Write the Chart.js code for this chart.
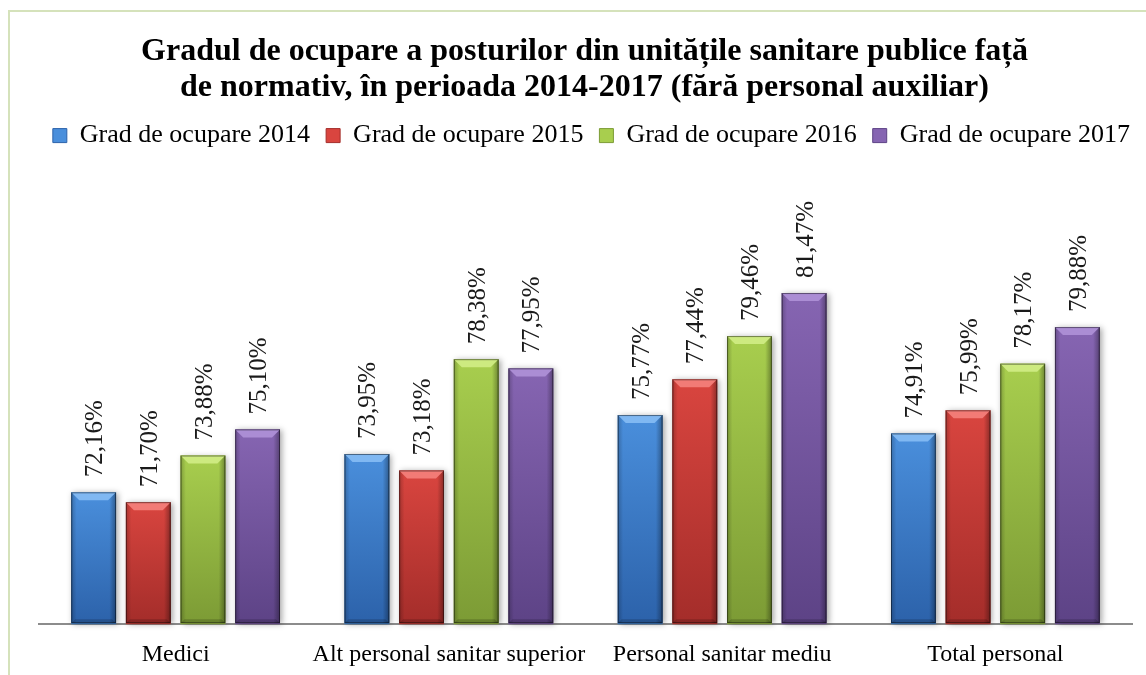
<!DOCTYPE html>
<html>
<head>
<meta charset="utf-8">
<script src="https://cdn.jsdelivr.net/npm/chart.js@4/dist/chart.umd.min.js"></script>
<style>
    html, body { margin: 0; padding: 0; background: #fff; overflow: hidden; }
    #frame { position: absolute; left: 8px; top: 10px; width: 1200px; height: 700px; border: 2px solid #d5e2bb; }
    #wrap { position: absolute; left: 0; top: 0; width: 1146px; height: 675px; }
</style>
</head>
<body>
<div id="frame"></div>
<div id="wrap"><canvas id="chart" width="1146" height="675"></canvas></div>
<script>
const categories = ["Medici", "Alt personal sanitar superior", "Personal sanitar mediu", "Total personal"];
const seriesNames = ["Grad de ocupare 2014", "Grad de ocupare 2015", "Grad de ocupare 2016", "Grad de ocupare 2017"];
const values2014 = [72.16, 73.95, 75.77, 74.91];
const values2015 = [71.70, 73.18, 77.44, 75.99];
const values2016 = [73.88, 78.38, 79.46, 78.17];
const values2017 = [75.10, 77.95, 81.47, 79.88];
const axisMin = 66;
const axisMax = 87.75;

// [top, bottom, bevel] per series
const palette = [
    ["#4a8fdc", "#2c62aa", "#80b8f2"],
    ["#d9453f", "#a42d2a", "#f27b76"],
    ["#a8ce4e", "#7c9b35", "#cdea80"],
    ["#8665b2", "#5d4386", "#ab8dd4"]
];

const serif = "'Liberation Serif', 'Times New Roman', serif";

// redraw each bar with a bevelled, shaded look
const bevelBars = {
    id: "bevelBars",
    afterDatasetsDraw(chart) {
        const ctx = chart.ctx;
        const bottom = chart.chartArea.bottom;
        chart.data.datasets.forEach((ds, di) => {
            const meta = chart.getDatasetMeta(di);
            const col = palette[di];
            meta.data.forEach((bar) => {
                const w = bar.width;
                const x0 = bar.x - w / 2, x1 = bar.x + w / 2;
                const y0 = bar.y, y1 = Math.min(bar.base, bottom) - 1;
                ctx.save();
                ctx.shadowColor = "rgba(0,0,0,0.35)";
                ctx.shadowBlur = 6;
                ctx.shadowOffsetX = 2;
                ctx.shadowOffsetY = 1;
                const g = ctx.createLinearGradient(0, y0, 0, y1);
                g.addColorStop(0, col[0]);
                g.addColorStop(1, col[1]);
                ctx.fillStyle = g;
                ctx.fillRect(x0, y0, w, y1 - y0);
                ctx.restore();

                ctx.save();
                // side shading
                const s = ctx.createLinearGradient(x0, 0, x1, 0);
                s.addColorStop(0, "rgba(0,0,0,0.22)");
                s.addColorStop(0.12, "rgba(0,0,0,0)");
                s.addColorStop(0.85, "rgba(0,0,0,0)");
                s.addColorStop(1, "rgba(0,0,0,0.35)");
                ctx.fillStyle = s;
                ctx.fillRect(x0, y0, w, y1 - y0);
                // top bevel
                const b = 8;
                ctx.beginPath();
                ctx.moveTo(x0, y0);
                ctx.lineTo(x1, y0);
                ctx.lineTo(x1 - b, y0 + b);
                ctx.lineTo(x0 + b, y0 + b);
                ctx.closePath();
                ctx.fillStyle = col[2];
                ctx.fill();
                // bottom bevel
                ctx.beginPath();
                ctx.moveTo(x0, y1);
                ctx.lineTo(x1, y1);
                ctx.lineTo(x1 - 4, y1 - 4);
                ctx.lineTo(x0 + 4, y1 - 4);
                ctx.closePath();
                ctx.fillStyle = "rgba(0,0,0,0.18)";
                ctx.fill();
                // outline
                ctx.strokeStyle = "rgba(0,0,0,0.45)";
                ctx.lineWidth = 1;
                ctx.strokeRect(x0 + 0.5, y0 + 0.5, w - 1, y1 - y0 - 1);
                ctx.restore();
            });
        });
    }
};

// rotated value labels above the bars
const valueLabels = {
    id: "valueLabels",
    afterDatasetsDraw(chart) {
        const ctx = chart.ctx;
        ctx.save();
        ctx.font = "25px " + serif;
        ctx.fillStyle = "#1a1a1a";
        ctx.textAlign = "left";
        ctx.textBaseline = "middle";
        chart.data.datasets.forEach((ds, di) => {
            const meta = chart.getDatasetMeta(di);
            meta.data.forEach((bar, i) => {
                const txt = ds.data[i].toFixed(2).replace(".", ",") + "%";
                ctx.save();
                ctx.translate(bar.x + 2, bar.y - 15);
                ctx.rotate(-Math.PI / 2);
                ctx.fillText(txt, 0, 0);
                ctx.restore();
            });
        });
        ctx.restore();
    }
};

const allValues = [values2014, values2015, values2016, values2017];
const datasets = allValues.map((vals, i) => ({
    label: seriesNames[i],
    data: vals,
    backgroundColor: palette[i][0],
    categoryPercentage: 0.8,
    barPercentage: 0.82
}));

// invisible side axes that only reserve room left/right of the plot
const spacer = (w, pos) => ({
    position: pos,
    display: true,
    grid: { display: false },
    border: { display: false },
    ticks: { display: false },
    afterFit(scale) { scale.width = w; }
});

new Chart(document.getElementById("chart"), {
    type: "bar",
    data: { labels: categories, datasets: datasets },
    options: {
        responsive: false,
        animation: false,
        layout: { padding: { left: 23, right: 0, top: 0, bottom: -2 } },
        plugins: {
            tooltip: { enabled: false },
            title: {
                display: true,
                text: ["Gradul de ocupare a posturilor din unitățile sanitare publice față",
                       "de normativ, în perioada 2014-2017 (fără personal auxiliar)"],
                font: { family: serif, size: 32, weight: "bold", lineHeight: 1.15 },
                color: "#000",
                padding: { top: 33, bottom: 0 }
            },
            legend: {
                position: "top",
                align: "end",
                labels: {
                    font: { family: serif, size: 26 },
                    color: "#000",
                    boxWidth: 14,
                    boxHeight: 14,
                    padding: 16,
                    generateLabels(chart) {
                        return chart.data.datasets.map((ds, i) => ({
                            text: ds.label,
                            fillStyle: palette[i][0],
                            strokeStyle: palette[i][1],
                            lineWidth: 1,
                            fontColor: "#000",
                            datasetIndex: i
                        }));
                    }
                }
            }
        },
        scales: {
            x: {
                grid: { display: false },
                border: { display: true, color: "#8c8c8c", width: 2 },
                ticks: {
                    font: { family: serif, size: 24 },
                    color: "#000",
                    padding: 8,
                    maxRotation: 0,
                    autoSkip: false
                }
            },
            y: Object.assign(spacer(16, "left"), { min: axisMin, max: axisMax }),
            yRight: spacer(14, "right")
        }
    },
    plugins: [bevelBars, valueLabels]
});
</script>
</body>
</html>
